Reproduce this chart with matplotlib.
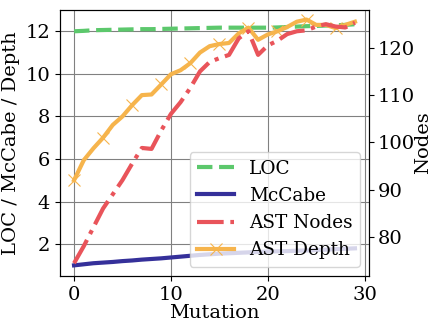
import matplotlib
matplotlib.use("Agg")
import matplotlib.pyplot as plt
import numpy as np

mutation = list(range(30))
loc = [12.0, 12.02, 12.05, 12.06, 12.07, 12.08, 12.09, 12.1, 12.1, 12.11,
       12.12, 12.13, 12.14, 12.15, 12.16, 12.17, 12.17, 12.17, 12.17, 12.17,
       12.17, 12.18, 12.2, 12.22, 12.24, 12.25, 12.27, 12.28, 12.3, 12.33]
mccabe = [1.0, 1.05, 1.1, 1.13, 1.16, 1.2, 1.23, 1.27, 1.3, 1.33,
          1.37, 1.41, 1.45, 1.49, 1.52, 1.55, 1.57, 1.59, 1.61, 1.63,
          1.65, 1.66, 1.67, 1.69, 1.7, 1.72, 1.74, 1.76, 1.78, 1.8]
ast_depth = [5.0, 5.94, 6.5, 7.0, 7.6, 8.0, 8.53, 9.0, 9.03, 9.5,
             9.98, 10.17, 10.5, 11.0, 11.3, 11.4, 11.45, 11.9, 12.17, 11.6,
             11.85, 12.0, 12.2, 12.45, 12.55, 12.3, 12.3, 12.15, 12.3, 12.45]
ast_nodes = [74.4, 78.0, 82.0, 86.0, 89.0, 92.0, 95.5, 98.8, 98.6, 102.5,
             106.0, 108.5, 111.5, 115.0, 117.0, 117.8, 118.5, 122.0, 123.5, 118.5,
             120.5, 121.5, 122.9, 123.5, 123.7, 124.5, 125.0, 124.5, 124.3, 125.3]

plt.rcParams['font.family'] = ['DejaVu Serif']
plt.rcParams['font.size'] = 14

fig = plt.figure(figsize=(4.33, 3.24), dpi=100)
ax1 = fig.add_axes([60/433, 48/324, (369-60)/433, (276-10)/324])
ax2 = ax1.twinx()

c_loc = '#5cc86c'
c_mc = '#35309a'
c_nodes = '#e9545a'
c_depth = '#f6b44c'

ax1.grid(True, color='0.5', linewidth=0.8)
ax1.set_axisbelow(True)
l1, = ax1.plot(mutation, loc, '--', color=c_loc, lw=3, label='LOC')
l2, = ax1.plot(mutation, mccabe, '-', color=c_mc, lw=3, label='McCabe')
l4, = ax1.plot(mutation, ast_depth, '-', color=c_depth, lw=3, marker='x',
               markevery=3, markersize=9, markeredgewidth=0.8, label='AST Depth')
l3, = ax2.plot(mutation, ast_nodes, '-.', color=c_nodes, lw=3, label='AST Nodes')

ax1.set_ylim(0.5, 13.0)
ax2.set_ylim(71.7, 128.0)
ax1.set_xlim(-1.45, 30.45)
ax1.set_xticks([0, 10, 20, 30])
ax1.set_yticks([2, 4, 6, 8, 10, 12])
ax2.set_yticks([80, 90, 100, 110, 120])
ax2.tick_params(axis='y', pad=2.5)

ax1.set_xlabel('Mutation', labelpad=0)
ax1.set_ylabel('LOC / McCabe / Depth')
ax2.set_ylabel('Nodes', labelpad=0)

ax2.legend([l1, l2, l3, l4], ['LOC', 'McCabe', 'AST Nodes', 'AST Depth'],
           loc='lower right', fontsize=13.3)

fig.savefig('out.png', dpi=100)
